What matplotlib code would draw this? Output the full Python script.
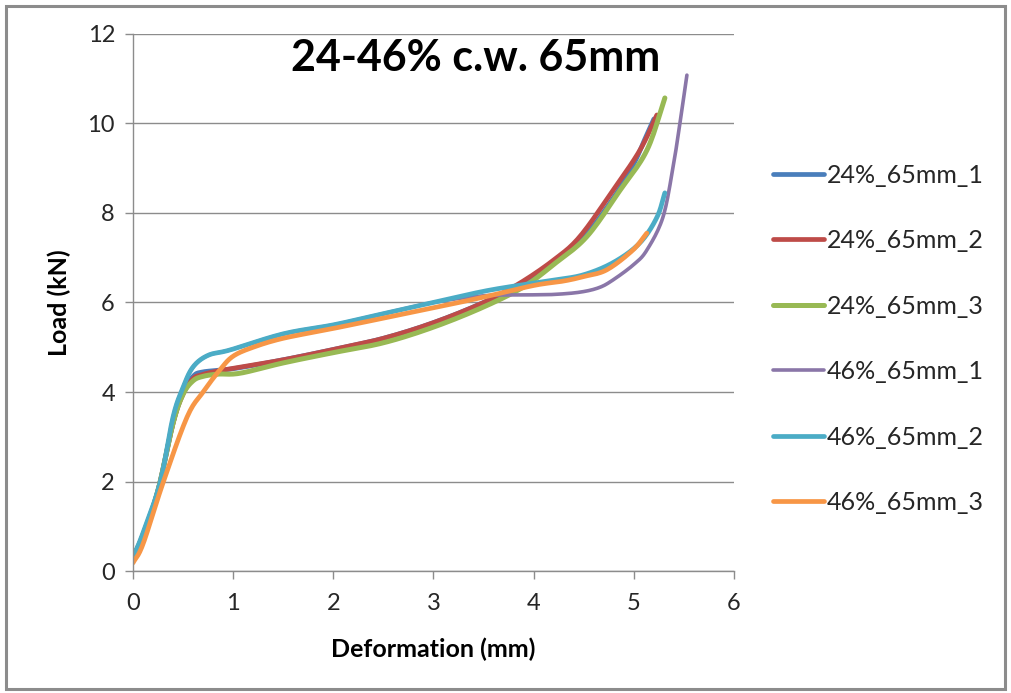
import numpy as np
import matplotlib
matplotlib.use("Agg")
import matplotlib.pyplot as plt
from matplotlib.patches import Rectangle

plt.rcParams['font.family'] = ['Lato', 'DejaVu Sans']

# Load-deformation records (deformation in mm, load in kN)
x_24_1 = [0.0, 0.1, 0.25, 0.4, 0.5, 0.6, 0.7, 1.0, 1.5, 2.0, 2.5, 3.0, 3.5, 3.9, 4.2, 4.5, 4.8, 5.0, 5.1, 5.2]
y_24_1 = [0.3, 0.8, 1.8, 3.3, 4.0, 4.35, 4.45, 4.52, 4.72, 4.95, 5.2, 5.55, 6.0, 6.45, 6.9, 7.45, 8.35, 9.1, 9.6, 10.1]

x_24_2 = [0.0, 0.1, 0.25, 0.4, 0.5, 0.6, 0.68, 0.8, 1.0, 1.5, 2.0, 2.5, 3.0, 3.5, 3.86, 4.2, 4.46, 4.79, 5.06, 5.23]
y_24_2 = [0.3, 0.8, 1.8, 3.3, 3.95, 4.3, 4.38, 4.45, 4.53, 4.72, 4.95, 5.2, 5.55, 6.0, 6.43, 6.95, 7.47, 8.5, 9.4, 10.19]

x_24_3 = [0.0, 0.1, 0.25, 0.4, 0.5, 0.6, 0.7, 0.85, 1.07, 1.5, 2.0, 2.5, 3.0, 3.5, 3.9, 4.2, 4.53, 4.86, 5.13, 5.31]
y_24_3 = [0.3, 0.8, 1.8, 3.3, 3.95, 4.25, 4.35, 4.4, 4.42, 4.65, 4.88, 5.1, 5.45, 5.9, 6.35, 6.85, 7.47, 8.5, 9.4, 10.57]

x_46_1 = [0.0, 0.1, 0.27, 0.4, 0.5, 0.6, 0.75, 0.97, 1.5, 2.0, 2.4, 3.0, 3.5, 3.96, 4.2, 4.46, 4.65, 4.79, 5.0, 5.13, 5.29, 5.39, 5.46, 5.53]
y_46_1 = [0.3, 0.85, 1.97, 3.44, 4.1, 4.56, 4.82, 4.94, 5.3, 5.5, 5.7, 6.0, 6.15, 6.17, 6.18, 6.23, 6.33, 6.5, 6.85, 7.17, 7.9, 9.0, 10.0, 11.08]

x_46_2 = [0.0, 0.1, 0.27, 0.4, 0.5, 0.6, 0.75, 0.97, 1.5, 2.0, 2.4, 3.0, 3.5, 3.9, 4.2, 4.5, 4.8, 5.06, 5.23, 5.31]
y_46_2 = [0.3, 0.85, 1.97, 3.44, 4.1, 4.56, 4.82, 4.94, 5.3, 5.5, 5.7, 6.0, 6.25, 6.4, 6.5, 6.62, 6.9, 7.33, 7.9, 8.45]

x_46_3 = [0.0, 0.1, 0.3, 0.54, 0.7, 0.87, 1.0, 1.2, 1.5, 2.0, 2.5, 3.0, 3.5, 4.0, 4.3, 4.5, 4.73, 4.99, 5.13]
y_46_3 = [0.18, 0.6, 1.97, 3.44, 4.0, 4.5, 4.8, 5.0, 5.2, 5.42, 5.65, 5.88, 6.12, 6.38, 6.48, 6.58, 6.73, 7.17, 7.55]

labels = ["24%_65mm_1", "24%_65mm_2", "24%_65mm_3",
          "46%_65mm_1", "46%_65mm_2", "46%_65mm_3"]
colors = ["#4a7ebb", "#be4b48", "#98b954", "#8a76a8", "#4bacc6", "#f79646"]
widths = [3.4, 3.4, 3.6, 2.6, 3.4, 3.4]

x_ticks = [0, 1, 2, 3, 4, 5, 6]
y_ticks = [0, 2, 4, 6, 8, 10, 12]

series = [(x_24_1, y_24_1), (x_24_2, y_24_2), (x_24_3, y_24_3),
          (x_46_1, y_46_1), (x_46_2, y_46_2), (x_46_3, y_46_3)]


def smooth(xs, ys, n=12):
    """Catmull-Rom spline through the recorded points."""
    p = np.column_stack([xs, ys]).astype(float)
    p = np.vstack([p[0] - (p[1] - p[0]), p, p[-1] + (p[-1] - p[-2])])
    out = []
    t = np.linspace(0, 1, n, endpoint=False)[:, None]
    for i in range(1, len(p) - 2):
        p0, p1, p2, p3 = p[i - 1], p[i], p[i + 1], p[i + 2]
        seg = 0.5 * ((2 * p1) + (-p0 + p2) * t + (2 * p0 - 5 * p1 + 4 * p2 - p3) * t ** 2
                     + (-p0 + 3 * p1 - 3 * p2 + p3) * t ** 3)
        out.append(seg)
    out.append(p[-2][None, :])
    out = np.vstack(out)
    return out[:, 0], out[:, 1]


fig = plt.figure(figsize=(10.11, 6.93), dpi=100)
fig.patches.append(Rectangle((0.006, 0.006), 0.988, 0.985, transform=fig.transFigure,
                             fill=False, edgecolor="#8c8c8c", linewidth=2.2, zorder=0))

ax = fig.add_axes([0.1315, 0.176, 0.5945, 0.775])

for (xs, ys), lab, col, lw in zip(series, labels, colors, widths):
    sx, sy = smooth(xs, ys)
    ax.plot(sx, sy, color=col, linewidth=lw, label=lab, solid_capstyle="round")

ax.set_xlim(0, 6)
ax.set_ylim(0, 12)
ax.set_xticks(x_ticks)
ax.set_yticks(y_ticks)
ax.yaxis.grid(True, color="#8c8c8c", linewidth=1.0)
ax.set_axisbelow(True)
for s in ["top", "right"]:
    ax.spines[s].set_visible(False)
for s in ["left", "bottom"]:
    ax.spines[s].set_color("#8c8c8c")
    ax.spines[s].set_linewidth(1.0)
ax.tick_params(axis="both", direction="out", length=6, width=1.0, color="#8c8c8c",
               labelsize=17, labelcolor="#262626", pad=7)
ax.tick_params(axis="x", pad=10)

ax.set_xlabel("Deformation (mm)", fontsize=18, fontweight="bold", labelpad=17)
ax.set_ylabel("Load (kN)", fontsize=18, fontweight="bold", labelpad=12)

ax.text(0.57, 0.955, "24-46% c.w. 65mm", transform=ax.transAxes, ha="center", va="center",
        fontsize=31, fontweight="bold")

handles, labs = ax.get_legend_handles_labels()
leg = fig.legend(handles, labs, loc="center left", bbox_to_anchor=(0.742, 0.511),
                 frameon=False, fontsize=18, handlelength=2.05, handletextpad=0.12,
                 labelspacing=1.7, labelcolor="#262626")

fig.savefig("out.png", dpi=100)
